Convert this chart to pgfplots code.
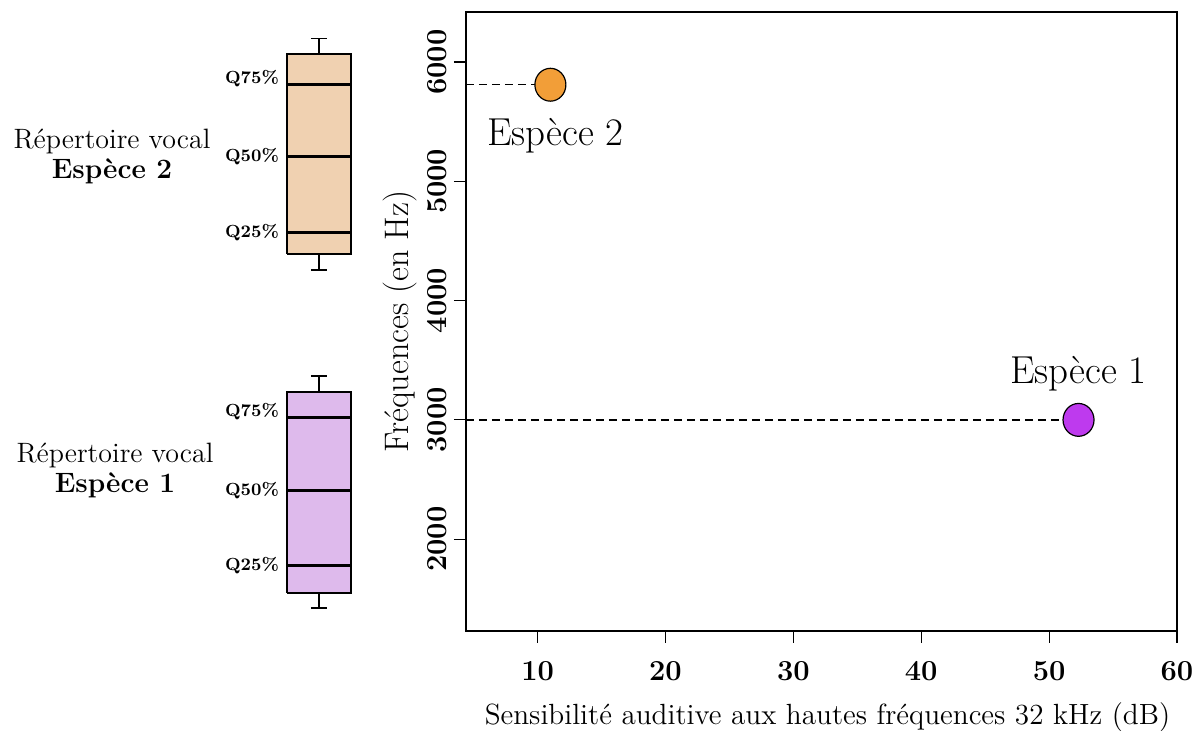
\documentclass[border=0pt]{standalone}
\usepackage{pgfplots}
\pgfplotsset{compat=1.18}
\definecolor{orangept}{RGB}{242,158,56}
\definecolor{purplept}{RGB}{190,58,238}
\definecolor{peach}{RGB}{240,209,177}
\definecolor{lavender}{RGB}{222,186,236}
\begin{document}
\begin{tikzpicture}
\useasboundingbox (-233pt,-50pt) rectangle (365pt,315.5pt);
\begin{axis}[
  at={(0,0)}, anchor=south west,
  scale only axis, width=355.5pt, height=309.5pt,
  xmin=4.4, xmax=60, ymin=1230, ymax=6420,
  xtick={10,20,30,40,50,60}, ytick={2000,3000,4000,5000,6000},
  xtick pos=bottom, ytick pos=left,
  tick align=outside, major tick length=6pt,
  axis line style={line width=0.75pt},
  every tick/.style={black, line width=0.6pt},
  /pgf/number format/assume math mode=true,
  /pgf/number format/1000 sep={},
  ticklabel style={font=\bfseries\fontsize{14.5}{14.5}\selectfont},
  xticklabel style={yshift=-5.5pt},
  yticklabel style={rotate=90, anchor=south},
  xlabel={Sensibilité auditive aux hautes fréquences 32 kHz (dB)},
  ylabel={Fréquences (en Hz)},
  xlabel style={font=\fontsize{14.6}{16}\selectfont, yshift=-4pt, xshift=3pt},
  ylabel style={font=\fontsize{17}{19}\selectfont, yshift=-1.5pt},
  clip=false,
]
\addplot[black, line width=0.75pt, dash pattern=on 4pt off 2.5pt] coordinates {(4.4,5810) (11.0,5810)};
\addplot[black, line width=0.75pt, dash pattern=on 4pt off 2.5pt] coordinates {(4.4,3000) (52.3,3000)};
\addplot[only marks, mark=*, mark size=7.75pt, mark options={fill=orangept, draw=black, line width=0.6pt, yscale=1.06}] coordinates {(11.0,5810)};
\addplot[only marks, mark=*, mark size=7.75pt, mark options={fill=purplept, draw=black, line width=0.6pt, yscale=1.06}] coordinates {(52.3,3000)};
\node[font=\fontsize{19.5}{22}\selectfont] at (axis cs:11.4,5380) {Espèce 2};
\node[font=\fontsize{19.5}{22}\selectfont] at (axis cs:52.3,3384) {Espèce 1};
\end{axis}
\begin{axis}[
  at={(-233pt,0)}, anchor=south west,
  scale only axis, width=233pt, height=309.5pt,
  xmin=0, xmax=466, ymin=1230, ymax=6420,
  hide axis, clip=false,
]
% Espece 2 box
\addplot[fill=peach, draw=black, line width=1pt, line join=miter] coordinates {(287,4390) (351,4390) (351,6065) (287,6065) (287,4390)};
\addplot[black, line width=0.8pt] coordinates {(319,6065) (319,6199)};
\addplot[black, line width=0.8pt] coordinates {(311,6199) (327,6199)};
\addplot[black, line width=0.8pt] coordinates {(319,4390) (319,4256)};
\addplot[black, line width=0.8pt] coordinates {(311,4256) (327,4256)};
\addplot[black, line width=1.5pt] coordinates {(287,5810) (351,5810)};
\addplot[black, line width=1.5pt] coordinates {(287,5210) (351,5210)};
\addplot[black, line width=1.5pt] coordinates {(287,4574) (351,4574)};
% Espece 1 box
\addplot[fill=lavender, draw=black, line width=1pt, line join=miter] coordinates {(287,1550) (351,1550) (351,3234) (287,3234) (287,1550)};
\addplot[black, line width=0.8pt] coordinates {(319,3234) (319,3368)};
\addplot[black, line width=0.8pt] coordinates {(311,3368) (327,3368)};
\addplot[black, line width=0.8pt] coordinates {(319,1550) (319,1424)};
\addplot[black, line width=0.8pt] coordinates {(311,1424) (327,1424)};
\addplot[black, line width=1.5pt] coordinates {(287,3016) (351,3016)};
\addplot[black, line width=1.5pt] coordinates {(287,2404) (351,2404)};
\addplot[black, line width=1.5pt] coordinates {(287,1776) (351,1776)};
% labels
\node[anchor=east, font=\bfseries\fontsize{8.8}{9}\selectfont] at (axis cs:286,5860) {Q75\%};
\node[anchor=east, font=\bfseries\fontsize{8.8}{9}\selectfont] at (axis cs:286,5210) {Q50\%};
\node[anchor=east, font=\bfseries\fontsize{8.8}{9}\selectfont] at (axis cs:286,4574) {Q25\%};
\node[anchor=east, font=\bfseries\fontsize{8.8}{9}\selectfont] at (axis cs:286,3066) {Q75\%};
\node[anchor=east, font=\bfseries\fontsize{8.8}{9}\selectfont] at (axis cs:286,2404) {Q50\%};
\node[anchor=east, font=\bfseries\fontsize{8.8}{9}\selectfont] at (axis cs:286,1776) {Q25\%};
\node[align=center, font=\fontsize{14}{15}\selectfont] at (axis cs:112,5210) {Répertoire vocal\\\textbf{Espèce 2}};
\node[align=center, font=\fontsize{14}{15}\selectfont] at (axis cs:115,2572) {Répertoire vocal\\\textbf{Espèce 1}};
\end{axis}
\end{tikzpicture}
\end{document}
